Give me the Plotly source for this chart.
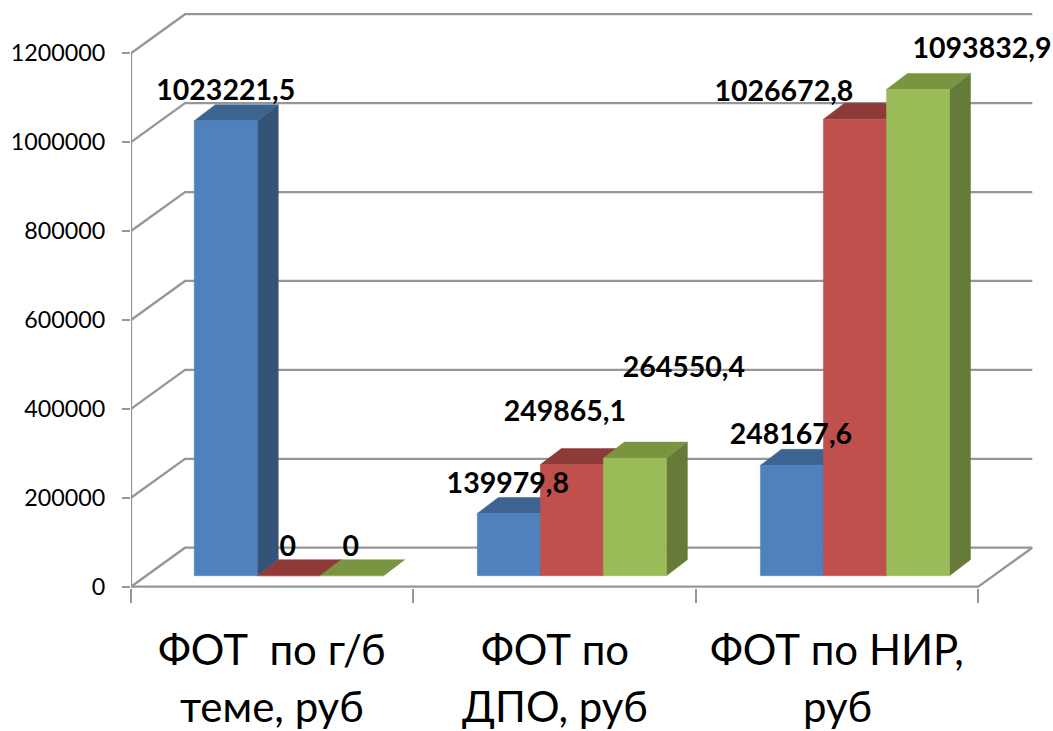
import plotly.graph_objects as go

# ---- data ----
categories = [["ФОТ\u00a0\u00a0по г/б", "теме, руб"], ["ФОТ по", "ДПО, руб"], ["ФОТ по НИР,", "руб"]]
series_a = [1023221.5, 139979.8, 248167.6]
series_b = [0, 249865.1, 1026672.8]
series_c = [0, 264550.4, 1093832.9]
y_ticks = [0, 200000, 400000, 600000, 800000, 1000000, 1200000]
x_ticks = [0, 1, 2, 3]

front_colors = ["#4F81BD", "#C0504D", "#9BBB59"]
top_colors = ["#3D6390", "#8E3A38", "#7A9441"]
side_colors = ["#335378", "#7E3432", "#667A39"]

# pixel scale of the axes
PX_X = 282.33
PX_Y = 533.5 / 1200000
L, R, T, B = 131.3, 1040, 5, 588
Y0 = 586.7

def dx(px):
    return px / PX_X

def dy(px):
    return px / PX_Y

# oblique depth of the box and of the bars
WALL_X, WALL_Y = dx(54), dy(39)
BAR_FX, BAR_FY = dx(15), dy(11)
BAR_BX, BAR_BY = dx(36), dy(27)
BAR_W = dx(63)
BAR_START = dx(48.2)
BAR_PITCH = dx(283)

fig = go.Figure()

def add_line(xs, ys, width=2.3):
    fig.add_trace(go.Scatter(x=xs, y=ys, mode="lines", hoverinfo="skip",
                             line=dict(color="#969696", width=width), showlegend=False))

gx, gy = [], []
for v in y_ticks:
    gx += [0, WALL_X, 3 + WALL_X, None]
    gy += [v, v + WALL_Y, v + WALL_Y, None]
add_line(gx, gy)
add_line([0, 0], [0, y_ticks[-1]])
add_line([0, 3, 3 + WALL_X], [0, 0, WALL_Y])

def poly(trace_x, trace_y, pts):
    for p in pts + [pts[0]]:
        trace_x.append(p[0]); trace_y.append(p[1])
    trace_x.append(None); trace_y.append(None)

def add_face(xs, ys, color, name):
    fig.add_trace(go.Scatter(x=xs, y=ys, mode="lines", fill="toself", fillcolor=color,
                             line=dict(color=color, width=0.5), name=name,
                             hoverinfo="skip", showlegend=False))

all_series = [series_a, series_b, series_c]
for s, values in enumerate(all_series):
    fx, fy, sx, sy, tx, ty = [], [], [], [], [], []
    for c, v in enumerate(values):
        x0 = c * BAR_PITCH + BAR_START + BAR_FX + s * BAR_W
        x1 = x0 + BAR_W
        b0 = BAR_FY
        top = v + BAR_FY
        depth_x = BAR_BX - BAR_FX
        depth_y = BAR_BY - BAR_FY
        poly(fx, fy, [(x0, b0), (x1, b0), (x1, top), (x0, top)])
        poly(sx, sy, [(x1, b0), (x1 + depth_x, b0 + depth_y), (x1 + depth_x, top + depth_y), (x1, top)])
        poly(tx, ty, [(x0, top), (x1, top), (x1 + depth_x, top + depth_y), (x0 + depth_x, top + depth_y)])
    add_face(sx, sy, side_colors[s], "side")
    add_face(tx, ty, top_colors[s], "top")
    add_face(fx, fy, front_colors[s], "front")

# data labels are hand-placed in the reference: centres in pixels
label_centers_px = [
    [(226, 93), (508, 486), (791, 437)],
    [(288, 549), (565, 414), (784, 94)],
    [(351, 549), (684, 370), (982, 51)],
]

def fmt(v):
    return "0" if v == 0 else f"{v:.1f}".replace(".", ",")

for s, values in enumerate(all_series):
    xs = [(p[0] - L) / PX_X for p in label_centers_px[s]]
    ys = [(Y0 - p[1]) / PX_Y for p in label_centers_px[s]]
    fig.add_trace(go.Scatter(x=xs, y=ys, mode="text", text=[fmt(v) for v in values],
                             textposition="middle center", cliponaxis=False, hoverinfo="skip",
                             textfont=dict(family="Lato", size=28.5, color="black", weight="bold"),
                             showlegend=False))

annotations = []
PLOT_H = B - T
for c, lines in enumerate(categories):
    for ln, py in zip(lines, (649, 706)):
        annotations.append(dict(x=c + 0.5, xref="x", y=(B - py) / PLOT_H, yref="paper",
                                text=ln, showarrow=False, xanchor="center", yanchor="middle",
                                font=dict(family="Lato", size=42, color="#000000")))

fig.update_layout(
    width=1053, height=731, autosize=False, showlegend=False,
    paper_bgcolor="white", plot_bgcolor="white",
    margin=dict(l=L, r=1053 - R, t=T, b=731 - B, pad=0),
    annotations=annotations,
    xaxis=dict(range=[0, (R - L) / PX_X], tickmode="array", tickvals=x_ticks, showticklabels=False,
               ticks="outside", ticklen=14, tickwidth=2, tickcolor="#969696",
               showgrid=False, zeroline=False, showline=False),
    yaxis=dict(range=[(Y0 - B) / PX_Y, (Y0 - T) / PX_Y], tickmode="array", tickvals=y_ticks,
               ticktext=[str(v) for v in y_ticks], ticks="outside", ticklen=8, tickwidth=2,
               tickcolor="#969696", tickfont=dict(family="Lato", size=23.3, color="#000000"),
               ticklabelstandoff=12, showgrid=False, zeroline=False, showline=False),
)

fig.write_html("out.html", config={"displayModeBar": False},
               post_script="document.body.style.margin='0';document.body.style.overflow='hidden';")
